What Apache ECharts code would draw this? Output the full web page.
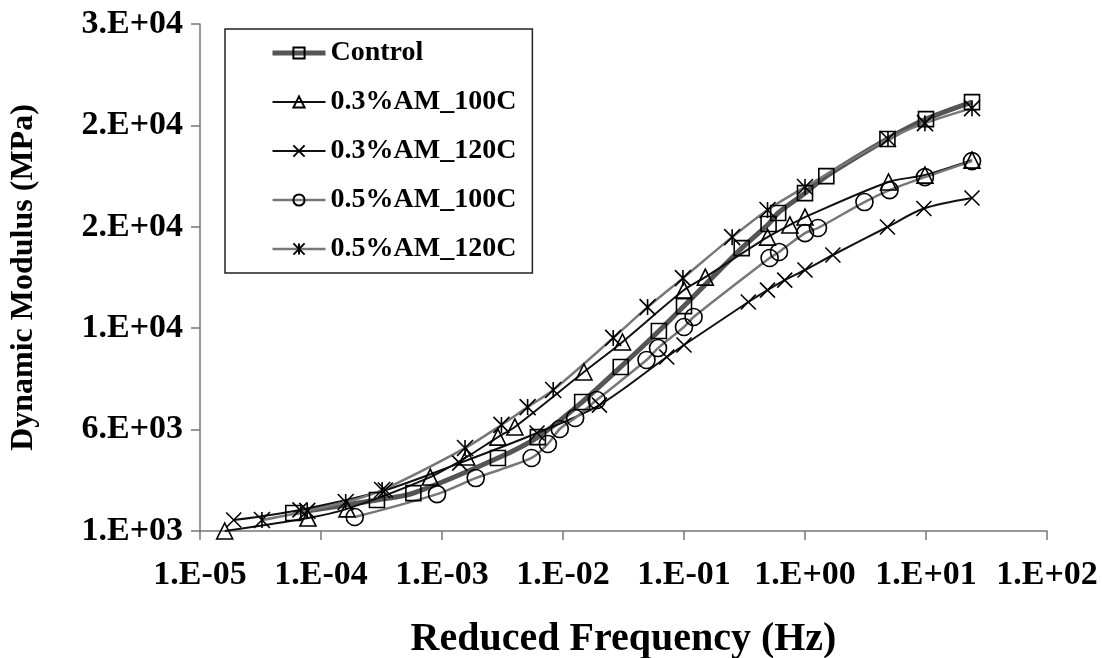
<!DOCTYPE html>
<html>
<head>
<meta charset="utf-8">
<title>Dynamic Modulus</title>
<script src="https://cdn.jsdelivr.net/npm/echarts@6/dist/echarts.min.js"></script>
<style>
  html, body { margin: 0; padding: 0; background: #fff; }
  #main { width: 1102px; height: 658px; }
</style>
</head>
<body>
<div id="main"></div>
<script>
// master curve data (frequency Hz, modulus MPa)
var controlFreq = [5.9e-5, 2.9e-4, 5.8e-4, 2.9e-3, 6.2e-3, 0.0144, 0.030, 0.062, 0.10, 0.30, 0.50, 0.60, 1.0, 1.5, 4.8, 10, 24];
var controlMod = [1890, 2530, 2870, 4600, 5630, 7360, 9090, 10860, 12090, 14950, 16140, 16680, 17660, 18500, 20330, 21310, 22150];

var am3_100Freq = [1.6e-5, 7.8e-5, 1.64e-4, 8.0e-4, 1.6e-3, 2.9e-3, 4.0e-3, 0.0149, 0.031, 0.10, 0.15, 0.49, 0.75, 1.0, 4.9, 9.8, 24];
var am3_100Mod = [1000, 1640, 2090, 3660, 4650, 5630, 6130, 8840, 10320, 12880, 13520, 15490, 16090, 16480, 18210, 18550, 19290];

var am3_120Freq = [1.9e-5, 6.7e-5, 3.4e-4, 1.4e-3, 6.1e-3, 0.020, 0.072, 0.10, 0.34, 0.49, 0.68, 1.0, 1.7, 4.8, 9.6, 24];
var am3_120Mod = [1540, 2040, 3020, 4350, 5830, 7210, 9580, 10170, 12290, 12880, 13370, 13870, 14610, 15990, 16900, 17420];

var am5_100Freq = [1.9e-4, 9.1e-4, 1.9e-3, 5.5e-3, 7.5e-3, 9.4e-3, 0.0126, 0.019, 0.049, 0.061, 0.10, 0.12, 0.51, 0.61, 1.0, 1.28, 3.1, 5.0, 9.8, 24];
var am5_100Mod = [1690, 2820, 3610, 4600, 5290, 6030, 6570, 7460, 9430, 10020, 11060, 11550, 14460, 14760, 15690, 15940, 17220, 17810, 18450, 19240];

var am5_120Freq = [3.25e-5, 7.7e-5, 1.6e-4, 3.2e-4, 1.55e-3, 3.1e-3, 5.1e-3, 8.3e-3, 0.026, 0.050, 0.098, 0.25, 0.49, 1.0, 4.85, 9.8, 24];
var am5_120Mod = [1540, 1990, 2430, 3020, 5090, 6230, 7110, 7950, 10520, 12040, 13470, 15490, 16830, 17960, 20330, 21110, 21850];

var seriesNames = ['Control', '0.3%AM_100C', '0.3%AM_120C', '0.5%AM_100C', '0.5%AM_120C'];
var lineColors = ['#555', '#111', '#111', '#777', '#777'];
var lineWidths = [5, 2, 2, 2.5, 2.5];

var FONT = 'Liberation Serif';

function pairs(xs, ys) {
  var out = [];
  for (var i = 0; i < xs.length; i++) {
    out.push([xs[i], ys[i]]);
  }
  return out;
}

// Excel style "1.E+04"
function sci(v) {
  var s = Number(v).toExponential(0).split('e');
  var exp = parseInt(s[1], 10);
  var sign = exp < 0 ? '-' : '+';
  var e = Math.abs(exp);
  return s[0] + '.E' + sign + (e < 10 ? '0' + e : e);
}

var xMark = 'path://M0 0L10 10M10 0L0 10';
var starMark = 'path://M5 0L5 10M0 0L10 10M10 0L0 10';

function makeSeries(i, data, symbol, size) {
  return {
    name: seriesNames[i],
    type: 'line',
    data: data,
    smooth: 0.3,
    symbol: symbol,
    symbolSize: size,
    showAllSymbol: true,
    lineStyle: { color: lineColors[i], width: lineWidths[i] },
    itemStyle: { color: 'rgba(0,0,0,0)', borderColor: '#000', borderWidth: 1.6 },
    emphasis: { disabled: true }
  };
}

var legendData = seriesNames.map(function (n, i) {
  return { name: n, lineStyle: { color: lineColors[i], width: lineWidths[i] } };
});

var chart = echarts.init(document.getElementById('main'));

var option = {
  animation: false,
  backgroundColor: '#fff',
  grid: { left: 200, right: 55, top: 24, bottom: 127, containLabel: false, outerBoundsMode: 'none' },
  legend: {
    orient: 'vertical',
    left: 225,
    top: 29,
    padding: [10, 16, 10, 45],
    itemGap: 21,
    itemWidth: 53,
    itemHeight: 14,
    borderColor: '#222',
    borderWidth: 1.5,
    data: legendData,
    textStyle: { fontFamily: FONT, fontWeight: 'bold', fontSize: 28, color: '#000' }
  },
  xAxis: {
    type: 'log',
    logBase: 10,
    min: 1e-5,
    max: 100,
    interval: 1,
    name: 'Reduced Frequency (Hz)',
    nameLocation: 'middle',
    nameGap: 89,
    nameTextStyle: { fontFamily: FONT, fontWeight: 'bold', fontSize: 40, color: '#000' },
    axisLine: { lineStyle: { color: '#777', width: 1.5 } },
    axisTick: { show: true, length: 9, lineStyle: { color: '#777', width: 1.5 } },
    axisLabel: {
      margin: 27,
      fontFamily: FONT, fontWeight: 'bold', fontSize: 34, color: '#000',
      formatter: sci
    },
    splitLine: { show: false },
    minorTick: { show: false }
  },
  yAxis: {
    type: 'value',
    min: 1000,
    max: 26000,
    interval: 5000,
    name: 'Dynamic Modulus (MPa)',
    nameLocation: 'middle',
    nameGap: 160,
    nameTextStyle: { fontFamily: FONT, fontWeight: 'bold', fontSize: 32, color: '#000' },
    axisLine: { show: true, lineStyle: { color: '#777', width: 1.5 } },
    axisTick: { show: true, length: 9, lineStyle: { color: '#777', width: 1.5 } },
    axisLabel: {
      margin: 17,
      fontFamily: FONT, fontWeight: 'bold', fontSize: 34, color: '#000',
      formatter: sci
    },
    splitLine: { show: false }
  },
  series: [
    makeSeries(0, pairs(controlFreq, controlMod), 'rect', 15),
    makeSeries(1, pairs(am3_100Freq, am3_100Mod), 'triangle', 16),
    makeSeries(2, pairs(am3_120Freq, am3_120Mod), xMark, 15),
    makeSeries(3, pairs(am5_100Freq, am5_100Mod), 'circle', 17),
    makeSeries(4, pairs(am5_120Freq, am5_120Mod), starMark, 16)
  ]
};

chart.setOption(option);
</script>
</body>
</html>
